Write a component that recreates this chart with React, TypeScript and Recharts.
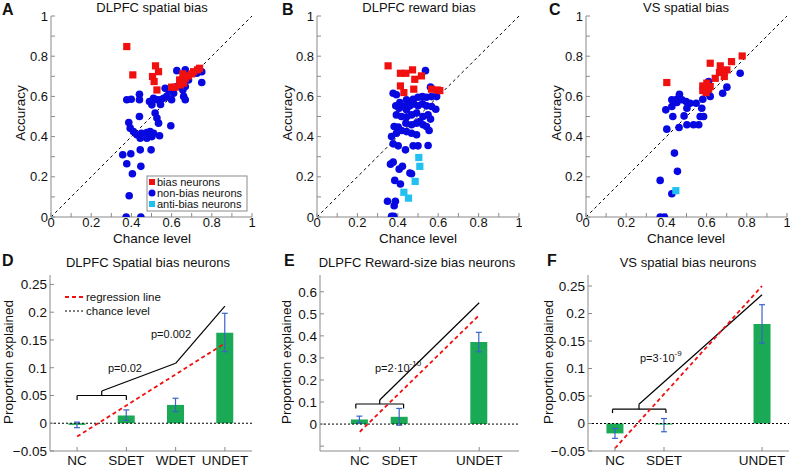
import React from 'react';
import { ScatterChart, Scatter, ComposedChart, Bar, ErrorBar, XAxis, YAxis, ReferenceLine } from 'recharts';

const FONT = '"Liberation Sans", Arial, Helvetica, sans-serif';
const FRAME = '#8a8a8a';
const RED = '#f01010';
const BLUE = '#0808e0';
const CYAN = '#20c0f0';
const GREEN = '#1aaa55';
const ERR = '#3a62c8';

// scatter panels: [chance level, accuracy]
const aNonBias = [
  [0.377, 0.583], [0.399, 0.586], [0.44, 0.611], [0.44, 0.583], [0.49, 0.575], [0.51, 0.591],
  [0.502, 0.558], [0.527, 0.583], [0.543, 0.583], [0.56, 0.591], [0.576, 0.6], [0.585, 0.632],
  [0.568, 0.64], [0.6, 0.583], [0.61, 0.616], [0.626, 0.649], [0.656, 0.632], [0.66, 0.6],
  [0.668, 0.583], [0.668, 0.649], [0.684, 0.682], [0.626, 0.728], [0.668, 0.732], [0.726, 0.715],
  [0.75, 0.669], [0.75, 0.723], [0.518, 0.517], [0.535, 0.467], [0.44, 0.5], [0.387, 0.47],
  [0.527, 0.492], [0.596, 0.454], [0.394, 0.442], [0.41, 0.425], [0.427, 0.409], [0.45, 0.417],
  [0.477, 0.42], [0.493, 0.425], [0.51, 0.417], [0.54, 0.404], [0.502, 0.4], [0.477, 0.392],
  [0.444, 0.392], [0.498, 0.334], [0.444, 0.334], [0.357, 0.31], [0.397, 0.315], [0.377, 0.265],
  [0.447, 0.252], [0.405, 0.215], [0.389, 0.106], [0.374, 0.0], [0.447, 0.0], [0.545, 0.56],
];
const aBias = [
  [0.377, 0.848], [0.407, 0.707], [0.52, 0.752], [0.535, 0.723], [0.505, 0.699], [0.513, 0.674],
  [0.527, 0.632], [0.6, 0.646], [0.618, 0.646], [0.64, 0.682], [0.656, 0.712], [0.668, 0.69],
  [0.684, 0.702], [0.709, 0.723], [0.729, 0.732], [0.739, 0.74], [0.66, 0.666], [0.643, 0.657],
  [0.7, 0.712],
];
const aAnti: number[][] = [];

const bNonBias = [
  [0.537, 0.728], [0.562, 0.646], [0.377, 0.616], [0.393, 0.608], [0.443, 0.583], [0.476, 0.586],
  [0.5, 0.596], [0.522, 0.599], [0.542, 0.596], [0.567, 0.599], [0.592, 0.599], [0.39, 0.553],
  [0.407, 0.541], [0.426, 0.55], [0.443, 0.533], [0.46, 0.553], [0.479, 0.563], [0.5, 0.553],
  [0.522, 0.563], [0.542, 0.553], [0.567, 0.55], [0.588, 0.536], [0.393, 0.508], [0.418, 0.5],
  [0.443, 0.497], [0.468, 0.508], [0.493, 0.517], [0.525, 0.5], [0.55, 0.508], [0.562, 0.487],
  [0.382, 0.45], [0.402, 0.447], [0.44, 0.467], [0.468, 0.459], [0.493, 0.467], [0.509, 0.475],
  [0.525, 0.459], [0.542, 0.45], [0.555, 0.43], [0.369, 0.4], [0.393, 0.417], [0.418, 0.43],
  [0.443, 0.425], [0.468, 0.417], [0.493, 0.409], [0.377, 0.364], [0.402, 0.354], [0.438, 0.334],
  [0.476, 0.354], [0.5, 0.354], [0.55, 0.356], [0.377, 0.273], [0.364, 0.263], [0.407, 0.238],
  [0.423, 0.252], [0.46, 0.219], [0.468, 0.215], [0.385, 0.182], [0.413, 0.164], [0.349, 0.078],
  [0.388, 0.078], [0.382, 0.056], [0.369, 0.003], [0.38, 0.003], [0.41, 0.57], [0.45, 0.56],
];
const bBias = [
  [0.352, 0.752], [0.413, 0.715], [0.44, 0.715], [0.473, 0.732], [0.484, 0.685], [0.517, 0.702],
  [0.413, 0.652], [0.43, 0.619], [0.479, 0.636], [0.567, 0.636], [0.595, 0.632], [0.608, 0.629],
];
const bAnti = [[0.504, 0.296], [0.509, 0.252], [0.486, 0.177], [0.43, 0.123], [0.453, 0.094]];

const cNonBias = [
  [0.767, 0.715], [0.701, 0.646], [0.68, 0.616], [0.618, 0.6], [0.61, 0.674], [0.581, 0.586],
  [0.465, 0.611], [0.452, 0.586], [0.477, 0.583], [0.498, 0.575], [0.518, 0.566], [0.452, 0.57],
  [0.427, 0.583], [0.397, 0.533], [0.427, 0.55], [0.432, 0.5], [0.488, 0.503], [0.502, 0.541],
  [0.548, 0.566], [0.576, 0.541], [0.568, 0.5], [0.585, 0.5], [0.561, 0.459], [0.502, 0.459],
  [0.463, 0.445], [0.535, 0.459], [0.402, 0.437], [0.44, 0.318], [0.455, 0.227], [0.369, 0.182],
  [0.427, 0.116], [0.369, 0.0], [0.39, 0.0],
];
const cBias = [
  [0.402, 0.669], [0.618, 0.765], [0.668, 0.752], [0.724, 0.773], [0.777, 0.801], [0.701, 0.732],
  [0.676, 0.724], [0.688, 0.699], [0.643, 0.69], [0.601, 0.666], [0.618, 0.649], [0.581, 0.652],
  [0.581, 0.629], [0.598, 0.619], [0.61, 0.636], [0.664, 0.719],
];
const cAnti = [[0.447, 0.131]];

const unitTicks = [0, 0.1, 0.2, 0.3, 0.4, 0.5, 0.6, 0.7, 0.8, 0.9, 1];

// bar panels
const dCats = [1, 2, 3, 4];
const dNames = ['NC', 'SDET', 'WDET', 'UNDET'];
const dValues = [-0.003, 0.014, 0.033, 0.163];
const dLow = [-0.008, 0.005, 0.021, 0.129];
const dHigh = [0.002, 0.024, 0.045, 0.198];
const dRegression = [[1, -0.024], [4, 0.144]];
const dBracket = [[1, 0.042], [1, 0.05], [2, 0.05], [2, 0.042]];
const dStem = [[1.5, 0.05], [1.5, 0.058], [3, 0.108], [4, 0.211]];
const dYTicks = [-0.05, 0, 0.05, 0.1, 0.15, 0.2, 0.25];

const eCats = [1, 2, 4];
const eNames = ['NC', 'SDET', 'UNDET'];
const eValues = [0.021, 0.033, 0.372];
const eLow = [0.006, -0.005, 0.328];
const eHigh = [0.036, 0.071, 0.416];
const eRegression = [[1, -0.035], [4, 0.494]];
const eBracket = [[0.9, 0.071], [0.9, 0.091], [2.1, 0.091], [2.1, 0.071]];
const eStem = [[1.5, 0.091], [1.5, 0.109], [4, 0.55]];
const eYTicks = [-0.1, 0, 0.1, 0.2, 0.3, 0.4, 0.5, 0.6];

const fCats = [1, 2, 4];
const fNames = ['NC', 'SDET', 'UNDET'];
const fValues = [-0.018, -0.002, 0.181];
const fLow = [-0.027, -0.015, 0.146];
const fHigh = [-0.009, 0.009, 0.216];
const fRegression = [[1, -0.045], [4, 0.25]];
const fBracket = [[0.95, 0.019], [0.95, 0.026], [2.04, 0.026], [2.04, 0.019]];
const fStem = [[1.49, 0.026], [1.49, 0.035], [4, 0.234]];
const fYTicks = [-0.05, 0, 0.05, 0.1, 0.15, 0.2, 0.25];

const TICK = { fontSize: 13, fill: '#111', fontFamily: FONT };
const toPts = (arr: number[][]) => arr.map(([x, y]) => ({ x, y }));
const pairs = (arr: number[][]) => arr.slice(1).map((p, i) => [arr[i], p]);

const Square = (color: string) => (p: any) => (
  <rect x={p.cx - 3.6} y={p.cy - 3.6} width={7.2} height={7.2} fill={color} />
);
const Dot = (p: any) => <circle cx={p.cx} cy={p.cy} r={3.8} fill={BLUE} />;

const unitLabel = (v: number) => (Math.round(v * 10) % 2 === 0 ? String(v) : '');

const ScatterPanel = ({ left, width, marginLeft, marginRight, nonBias, bias, anti }: any) => (
  <div style={{ position: 'absolute', left, top: 0 }}>
    <ScatterChart width={width} height={235} margin={{ top: 16, right: marginRight, left: marginLeft, bottom: 0 }}>
      <XAxis xAxisId="b" type="number" dataKey="x" domain={[0, 1]} allowDataOverflow ticks={unitTicks}
        tickFormatter={unitLabel} interval={0} height={18} tickSize={-4} tickMargin={5}
        stroke={FRAME} tick={TICK} />
      <XAxis xAxisId="t" orientation="top" type="number" dataKey="x" domain={[0, 1]} allowDataOverflow
        ticks={unitTicks} tickFormatter={() => ''} interval={0} height={0} tickSize={-4} stroke={FRAME} />
      <YAxis yAxisId="l" type="number" dataKey="y" domain={[0, 1]} allowDataOverflow ticks={unitTicks}
        tickFormatter={unitLabel} interval={0} width={30} tickSize={-4} tickMargin={7}
        stroke={FRAME} tick={TICK} />
      <YAxis yAxisId="r" orientation="right" type="number" dataKey="y" domain={[0, 1]} allowDataOverflow
        ticks={unitTicks} tickFormatter={() => ''} interval={0} width={0} tickSize={-4} stroke={FRAME} />
      <ReferenceLine xAxisId="b" yAxisId="l" segment={[{ x: 0, y: 0 }, { x: 1, y: 1 }]}
        stroke="#000" strokeDasharray="3 3" />
      <Scatter xAxisId="b" yAxisId="l" data={toPts(nonBias)} shape={Dot} isAnimationActive={false} />
      <Scatter xAxisId="b" yAxisId="l" data={toPts(bias)} shape={Square(RED)} isAnimationActive={false} />
      <Scatter xAxisId="b" yAxisId="l" data={toPts(anti)} shape={Square(CYAN)} isAnimationActive={false} />
    </ScatterChart>
  </div>
);

const BarPanel = ({ left, width, marginLeft, marginRight, cats, names, values, low, high,
  xDomain, yDomain, yTicks, regression, bracket, stem }: any) => {
  const rows = cats.map((x: number, i: number) => ({
    x, v: values[i], err: [values[i] - low[i], high[i] - values[i]],
  }));
  const yLabel = (v: number) => {
    if (v === 0) return '0';
    if (v === -0.1) return '';
    return v < 0 ? '\u22120' + String(v).slice(2) : String(v);
  };
  const catLabel = (v: number) => names[cats.indexOf(v)] ?? '';
  return (
    <div style={{ position: 'absolute', left, top: 240 }}>
      <ComposedChart width={width} height={228} data={rows}
        margin={{ top: 35, right: marginRight, left: marginLeft, bottom: 0 }}>
        <XAxis xAxisId="b" type="number" dataKey="x" domain={xDomain} allowDataOverflow ticks={cats}
          tickFormatter={catLabel} interval={0} height={17} tickSize={-4} tickMargin={8}
          stroke={FRAME} tick={{ ...TICK, fontSize: 13.5 }} />
        <XAxis xAxisId="t" orientation="top" type="number" dataKey="x" domain={xDomain} allowDataOverflow
          ticks={cats} tickFormatter={() => ''} interval={0} height={0} tickSize={-4} stroke={FRAME} />
        <YAxis yAxisId="l" type="number" domain={yDomain} allowDataOverflow ticks={yTicks}
          tickFormatter={yLabel} interval={0} width={40} tickSize={-4} tickMargin={7}
          stroke={FRAME} tick={{ ...TICK, fontSize: 13.5 }} />
        <YAxis yAxisId="r" orientation="right" type="number" domain={yDomain} allowDataOverflow
          ticks={yTicks} tickFormatter={() => ''} interval={0} width={0} tickSize={-4} stroke={FRAME} />
        <Bar xAxisId="b" yAxisId="l" dataKey="v" fill={GREEN} barSize={17} isAnimationActive={false}>
          <ErrorBar dataKey="err" width={3} stroke={ERR} strokeWidth={1.2} isAnimationActive={false} />
        </Bar>
        <ReferenceLine xAxisId="b" yAxisId="l" y={0} stroke="#000" strokeDasharray="2 2" />
        {pairs(bracket).concat(pairs(stem)).map(([a, b]: number[][], i: number) => (
          <ReferenceLine key={'k' + i} xAxisId="b" yAxisId="l"
            segment={[{ x: a[0], y: a[1] }, { x: b[0], y: b[1] }]} stroke="#000" strokeWidth={1.2} />
        ))}
        <ReferenceLine xAxisId="b" yAxisId="l"
          segment={[{ x: regression[0][0], y: regression[0][1] }, { x: regression[1][0], y: regression[1][1] }]}
          stroke={RED} strokeWidth={1.8} strokeDasharray="4 3" />
      </ComposedChart>
    </div>
  );
};

const txt = { fontFamily: FONT, fill: '#111' };

export default function App() {
  return (
    <div style={{ position: 'absolute', left: 0, top: 0, width: 790, height: 468, background: '#fff', overflow: 'hidden' }}>
      <ScatterPanel left={0} width={260} marginLeft={21} marginRight={8} nonBias={aNonBias} bias={aBias} anti={aAnti} />
      <ScatterPanel left={260} width={262} marginLeft={27} marginRight={3} nonBias={bNonBias} bias={bBias} anti={bAnti} />
      <ScatterPanel left={520} width={270} marginLeft={36} marginRight={3} nonBias={cNonBias} bias={cBias} anti={cAnti} />
      <BarPanel left={0} width={260} marginLeft={10} marginRight={8} cats={dCats} names={dNames}
        values={dValues} low={dLow} high={dHigh} xDomain={[0.45, 4.55]} yDomain={[-0.05, 0.267]}
        yTicks={dYTicks} regression={dRegression} bracket={dBracket} stem={dStem} />
      <BarPanel left={260} width={262} marginLeft={20} marginRight={3} cats={eCats} names={eNames}
        values={eValues} low={eLow} high={eHigh} xDomain={[0, 5]} yDomain={[-0.122, 0.676]}
        yTicks={eYTicks} regression={eRegression} bracket={eBracket} stem={eStem} />
      <BarPanel left={520} width={270} marginLeft={28} marginRight={1} cats={fCats} names={fNames}
        values={fValues} low={fLow} high={fHigh} xDomain={[0.45, 4.55]} yDomain={[-0.05, 0.27]}
        yTicks={fYTicks} regression={fRegression} bracket={fBracket} stem={fStem} />

      <svg width={790} height={468} style={{ position: 'absolute', left: 0, top: 0, pointerEvents: 'none' }}>
        <g style={txt} fontWeight="bold" fontSize={16}>
          <text x={2} y={15}>A</text>
          <text x={282} y={15}>B</text>
          <text x={549} y={15}>C</text>
          <text x={2} y={266}>D</text>
          <text x={284} y={266}>E</text>
          <text x={547} y={266}>F</text>
        </g>
        <g style={txt} fontSize={13} textAnchor="middle">
          <text x={152} y={12}>DLPFC spatial bias</text>
          <text x={419} y={12}>DLPFC reward bias</text>
          <text x={686} y={12}>VS spatial bias</text>
          <text x={148} y={267}>DLPFC Spatial bias neurons</text>
          <text x={417} y={267}>DLPFC Reward-size bias neurons</text>
          <text x={688} y={267}>VS spatial bias neurons</text>
        </g>
        <g style={txt} fontSize={13.5} textAnchor="middle">
          <text x={152} y={243}>Chance level</text>
          <text x={418} y={243}>Chance level</text>
          <text x={686} y={243}>Chance level</text>
          <text transform="translate(25,113) rotate(-90)">Accuracy</text>
          <text transform="translate(292,113) rotate(-90)">Accuracy</text>
          <text transform="translate(561,113) rotate(-90)">Accuracy</text>
          <text transform="translate(13,362) rotate(-90)">Proportion explained</text>
          <text transform="translate(291,362) rotate(-90)">Proportion explained</text>
          <text transform="translate(553,362) rotate(-90)">Proportion explained</text>
        </g>
        <g style={txt} fontSize={11}>
          <text x={108} y={372}>p=0.02</text>
          <text x={151} y={338}>p=0.002</text>
          <text x={375} y={372}>p=2·10<tspan dy={-6} fontSize={8}>-10</tspan></text>
          <text x={640} y={362}>p=3·10<tspan dy={-6} fontSize={8}>-9</tspan></text>
        </g>
        {/* legend of panel A */}
        <rect x={147} y={176} width={100} height={35} fill="#fff" stroke={FRAME} />
        <rect x={149} y={179} width={6} height={6} fill={RED} />
        <circle cx={152} cy={193} r={3.5} fill={BLUE} />
        <rect x={149} y={201} width={6} height={6} fill={CYAN} />
        <g style={txt} fontSize={11}>
          <text x={157} y={186}>bias neurons</text>
          <text x={157} y={197}>non-bias neurons</text>
          <text x={157} y={208}>anti-bias neurons</text>
        </g>
        {/* legend of panel D */}
        <line x1={65} y1={297} x2={83} y2={297} stroke={RED} strokeWidth={1.8} strokeDasharray="4 3" />
        <line x1={65} y1={311} x2={83} y2={311} stroke="#000" strokeWidth={1} strokeDasharray="2 2" />
        <g style={txt} fontSize={11.5}>
          <text x={86} y={301}>regression line</text>
          <text x={86} y={315}>chance level</text>
        </g>
      </svg>
    </div>
  );
}
